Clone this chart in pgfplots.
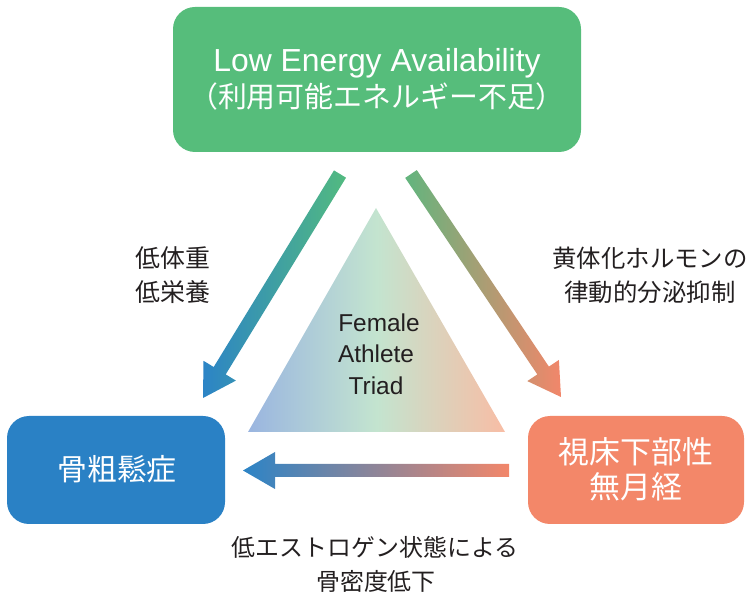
\documentclass[border=0pt]{standalone}
\usepackage{fontspec}
\setmainfont{Liberation Sans}
\newfontfamily\jp{Noto Sans CJK JP}
\usepackage{pgfplots}
\pgfplotsset{compat=1.18}
\definecolor{boxgreen}{HTML}{56BD7B}
\definecolor{boxblue}{HTML}{2A81C5}
\definecolor{boxorange}{HTML}{F38769}
\definecolor{arrgreen}{HTML}{52BA80}
\definecolor{arrblue}{HTML}{2C84C6}
\definecolor{arrorange}{HTML}{F2866A}
\definecolor{trblue}{HTML}{9AB5E0}
\definecolor{trgreen}{HTML}{C3E4CF}
\definecolor{trorange}{HTML}{F8BDA5}
\definecolor{txt}{HTML}{231F20}
\tikzset{lbl/.style={inner sep=0pt, outer sep=0pt}}
\begin{document}
\begin{tikzpicture}
\begin{axis}[
  hide axis, scale only axis,
  width=749bp, height=594bp,
  xmin=0, xmax=749, ymin=0, ymax=594,
  clip=false]
% boxes
\addplot[draw=none, fill=boxgreen, mark=none, rounded corners=22bp]
  coordinates {(173,442)(581,442)(581,587)(173,587)} -- cycle;
\addplot[draw=none, fill=boxblue, mark=none, rounded corners=22bp]
  coordinates {(7,70)(225,70)(225,178)(7,178)} -- cycle;
\addplot[draw=none, fill=boxorange, mark=none, rounded corners=22bp]
  coordinates {(528,70)(744,70)(744,178)(528,178)} -- cycle;
% triangle
\addplot[draw=none, mark=none, left color=trblue, right color=trorange, middle color=trgreen]
  coordinates {(248,162)(505,162)(376,386)} -- cycle;
% arrows
\addplot[draw=none, mark=none, left color=arrblue, right color=arrgreen]
  coordinates {(334.0,423.6)(346.0,416.3)(225.7,219.6)(235.9,213.4)(203,196)(203.5,233.2)(213.7,227.0)} -- cycle;
\addplot[draw=none, mark=none, left color=arrgreen!90!arrorange, right color=arrorange]
  coordinates {(405.2,416.1)(416.8,423.9)(548.9,227.4)(558.9,234.1)(561,197)(527.3,212.9)(537.3,219.6)} -- cycle;
\addplot[draw=none, mark=none, left color=arrblue, right color=arrorange]
  coordinates {(509,130)(509,117)(275,117)(275,105)(243,123.5)(275,142)(275,130)} -- cycle;
% texts
\node[lbl, anchor=base, text=white, font=\fontsize{32}{32}\selectfont] at (axis cs:377,522) {Low Energy Availability};
\node[lbl, text=white, font=\jp\fontsize{29}{29}\selectfont] at (axis cs:377,497) {（利用可能エネルギー不足）};
\node[lbl, text=white, font=\jp\fontsize{30}{30}\selectfont] at (axis cs:117,125) {骨粗鬆症};
\node[lbl, text=white, font=\jp\fontsize{31}{31}\selectfont] at (axis cs:636,142) {視床下部性};
\node[lbl, text=white, font=\jp\fontsize{31}{31}\selectfont] at (axis cs:636,107) {無月経};
\node[lbl, text=txt, font=\jp\fontsize{25}{25}\selectfont] at (axis cs:173,336) {低体重};
\node[lbl, text=txt, font=\jp\fontsize{25}{25}\selectfont] at (axis cs:173,302) {低栄養};
\node[lbl, text=txt, font=\jp\fontsize{24.5}{25}\selectfont] at (axis cs:650,336) {黄体化ホルモンの};
\node[lbl, text=txt, font=\jp\fontsize{24.5}{25}\selectfont] at (axis cs:650,302) {律動的分泌抑制};
\node[lbl, anchor=base, text=txt, font=\fontsize{24.5}{24}\selectfont] at (axis cs:379,262) {Female};
\node[lbl, anchor=base, text=txt, font=\fontsize{24.5}{24}\selectfont] at (axis cs:376,231) {Athlete};
\node[lbl, anchor=base, text=txt, font=\fontsize{24.5}{24}\selectfont] at (axis cs:376,199) {Triad};
\node[lbl, text=txt, font=\jp\fontsize{24}{24}\selectfont] at (axis cs:375,47) {低エストロゲン状態による};
\node[lbl, text=txt, font=\jp\fontsize{24}{24}\selectfont] at (axis cs:376,13) {骨密度低下};
\end{axis}
\pgfresetboundingbox
\path (current axis.south west) rectangle (current axis.north east);
\end{tikzpicture}
\end{document}
